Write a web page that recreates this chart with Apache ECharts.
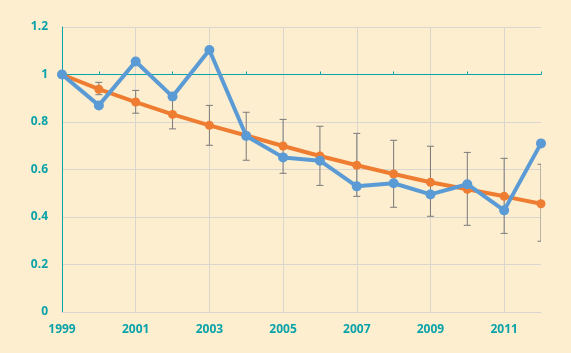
<!DOCTYPE html>
<html>
<head>
<meta charset="utf-8">
<style>
  html, body { margin: 0; padding: 0; background: #fdeecf; }
  #chart { width: 571px; height: 353px; }
</style>
<script src="https://cdn.jsdelivr.net/npm/echarts@6/dist/echarts.min.js"></script>
</head>
<body>
<div id="chart"></div>
<script>
const years = ["1999", "2000", "2001", "2002", "2003", "2004", "2005", "2006", "2007", "2008", "2009", "2010", "2011", "2012"];
const observed = [1.0, 0.87, 1.055, 0.907, 1.103, 0.741, 0.651, 0.637, 0.529, 0.542, 0.495, 0.538, 0.428, 0.71];
const trend = [1.0, 0.938, 0.884, 0.832, 0.786, 0.743, 0.699, 0.657, 0.618, 0.581, 0.546, 0.517, 0.487, 0.456];
const errLow = [null, 0.915, 0.837, 0.771, 0.702, 0.639, 0.584, 0.533, 0.487, 0.441, 0.403, 0.365, 0.331, 0.298];
const errHigh = [null, 0.967, 0.933, 0.893, 0.870, 0.841, 0.811, 0.782, 0.752, 0.723, 0.698, 0.672, 0.647, 0.622];

const TEAL = "#0aa3a9";
const GRID_GRAY = "#d9d6d0";
const labelFont = { color: TEAL, fontFamily: "Open Sans", fontWeight: "bold", fontSize: 12 };

const errData = years
  .map((y, i) => [i, errLow[i], errHigh[i]])
  .filter((d) => d[1] !== null);

const chart = echarts.init(document.getElementById("chart"));

chart.setOption({
  backgroundColor: "#fdeecf",
  animation: false,
  grid: { left: 62, right: 30, top: 27, bottom: 41 },
  xAxis: [
    {
      type: "category",
      data: years,
      boundaryGap: false,
      axisLine: { lineStyle: { color: GRID_GRAY, width: 1 } },
      axisTick: { show: false, interval: 1 },
      axisLabel: { ...labelFont, interval: 1, margin: 12 },
      splitLine: { show: true, interval: 1, lineStyle: { color: GRID_GRAY, width: 1 } }
    },
    {
      // axis crossing at 1.0
      type: "category",
      data: years,
      boundaryGap: false,
      axisLine: { onZero: true, onZeroAxisIndex: 1, lineStyle: { color: TEAL, width: 1 } },
      axisTick: { show: true, interval: (i) => i % 2 === 1, length: 3, lineStyle: { color: TEAL } },
      axisLabel: { show: false },
      splitLine: { show: false }
    }
  ],
  yAxis: [
    {
      type: "value",
      min: 0,
      max: 1.2,
      interval: 0.2,
      axisLine: { show: true, lineStyle: { color: TEAL, width: 1 } },
      axisTick: { show: false },
      axisLabel: { ...labelFont, margin: 14 },
      splitLine: { lineStyle: { color: GRID_GRAY, width: 1 } }
    },
    {
      type: "value",
      min: -1,
      max: 0.2,
      show: false
    }
  ],
  series: [
    {
      type: "custom",
      clip: true,
      z: 2,
      data: errData,
      renderItem: (params, api) => {
        const lo = api.coord([api.value(0), api.value(1)]);
        const hi = api.coord([api.value(0), api.value(2)]);
        const half = 3.5;
        const style = { stroke: "#7a7a7a", lineWidth: 1 };
        return {
          type: "group",
          children: [
            { type: "line", shape: { x1: lo[0], y1: lo[1], x2: hi[0], y2: hi[1] }, style },
            { type: "line", shape: { x1: lo[0] - half, y1: lo[1], x2: lo[0] + half, y2: lo[1] }, style },
            { type: "line", shape: { x1: hi[0] - half, y1: hi[1], x2: hi[0] + half, y2: hi[1] }, style }
          ]
        };
      }
    },
    {
      name: "trend",
      type: "line",
      z: 3,
      data: trend,
      symbol: "circle",
      symbolSize: 9,
      lineStyle: { color: "#ee7d32", width: 4 },
      itemStyle: { color: "#ee7d32" }
    },
    {
      name: "observed",
      type: "line",
      z: 4,
      data: observed,
      symbol: "circle",
      symbolSize: 10,
      lineStyle: { color: "#5b9bd5", width: 4 },
      itemStyle: { color: "#5b9bd5" }
    }
  ]
});
</script>
</body>
</html>
